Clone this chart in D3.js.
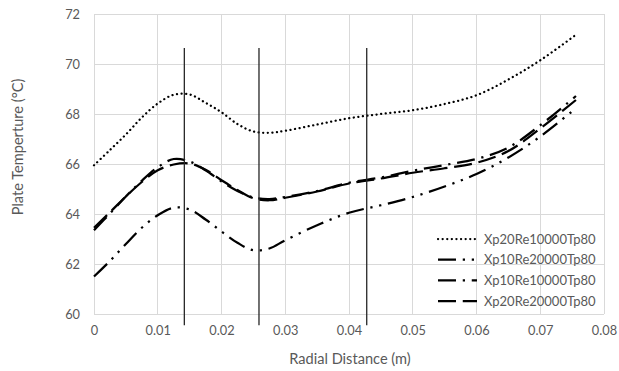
<!DOCTYPE html>
<html>
<head>
<meta charset="utf-8">
<script src="https://cdn.jsdelivr.net/npm/d3@7"></script>
<style>
  html, body { margin: 0; padding: 0; background: #ffffff; }
  svg { display: block; }
  text { font-family: Lato, "Open Sans", sans-serif; fill: #595959; }
</style>
</head>
<body>
<svg id="chart" width="619" height="371"></svg>
<script>
// ---- data ----
const radialDistance = [0, 0.0025, 0.005, 0.0075, 0.01, 0.0125, 0.015, 0.0175, 0.02, 0.0225, 0.025, 0.0275, 0.03, 0.035, 0.04, 0.045, 0.05, 0.055, 0.06, 0.065, 0.07, 0.0756];
const seriesNames = ["Xp20Re10000Tp80", "Xp10Re20000Tp80", "Xp10Re10000Tp80", "Xp20Re20000Tp80"];
const xp20Re10000 = [65.95, 66.56, 67.18, 67.86, 68.42, 68.77, 68.78, 68.45, 68.07, 67.6, 67.3, 67.25, 67.33, 67.58, 67.83, 68.0, 68.15, 68.4, 68.75, 69.38, 70.15, 71.17];
const xp10Re20000 = [61.5, 62.12, 62.8, 63.45, 63.95, 64.25, 64.18, 63.78, 63.3, 62.85, 62.55, 62.62, 62.95, 63.55, 64.05, 64.35, 64.68, 65.1, 65.6, 66.26, 67.1, 68.23];
const xp10Re10000 = [63.35, 64.02, 64.7, 65.33, 65.87, 66.2, 66.1, 65.75, 65.3, 64.92, 64.66, 64.6, 64.68, 64.92, 65.25, 65.46, 65.73, 65.96, 66.2, 66.66, 67.55, 68.72];
const xp20Re20000 = [63.45, 64.07, 64.7, 65.28, 65.75, 65.98, 66.02, 65.77, 65.35, 64.96, 64.63, 64.55, 64.65, 64.9, 65.22, 65.42, 65.65, 65.83, 66.05, 66.52, 67.42, 68.56];
const seriesValues = [xp20Re10000, xp10Re20000, xp10Re10000, xp20Re20000];
const markerX = [0.01417, 0.02588, 0.04278];
const markerRange = [70.64, 59.55];
const xTicks = [0, 0.01, 0.02, 0.03, 0.04, 0.05, 0.06, 0.07, 0.08];
const yTicks = [60, 62, 64, 66, 68, 70, 72];
const xTitle = "Radial Distance (m)";
const yTitle = "Plate Temperture (°C)";

// ---- layout ----
const svg = d3.select("#chart");
const m = { left: 94, right: 604, top: 14, bottom: 314 };
const x = d3.scaleLinear().domain([0, 0.08]).range([m.left, m.right]);
const y = d3.scaleLinear().domain([60, 72]).range([m.bottom, m.top]);

// gridlines
svg.append("g").selectAll("line").data(yTicks).join("line")
  .attr("x1", m.left).attr("x2", m.right)
  .attr("y1", d => y(d)).attr("y2", d => y(d))
  .attr("stroke", "#d9d9d9").attr("stroke-width", 1).attr("shape-rendering", "crispEdges");
svg.append("g").selectAll("line").data(xTicks).join("line")
  .attr("y1", m.top).attr("y2", m.bottom)
  .attr("x1", d => x(d)).attr("x2", d => x(d))
  .attr("stroke", "#d9d9d9").attr("stroke-width", 1).attr("shape-rendering", "crispEdges");

// axes (labels only)
const xAxis = d3.axisBottom(x).tickValues(xTicks).tickSize(0).tickPadding(12)
  .tickFormat(d => d === 0 ? "0" : d3.format(".2f")(d));
const gx = svg.append("g").attr("transform", `translate(0,${m.bottom})`).call(xAxis);
gx.select(".domain").remove();
gx.selectAll("text").attr("font-size", 12.8).style("fill", "#595959").style("font-family", "Lato, sans-serif");

const yAxis = d3.axisLeft(y).tickValues(yTicks).tickSize(0).tickPadding(14);
const gy = svg.append("g").attr("transform", `translate(${m.left},0)`).call(yAxis);
gy.select(".domain").remove();
gy.selectAll("text").attr("font-size", 12.8).style("fill", "#595959").style("font-family", "Lato, sans-serif");

// titles
svg.append("text").attr("x", 350).attr("y", 364).attr("text-anchor", "middle")
  .attr("font-size", 14.6).text(xTitle);
svg.append("text").attr("transform", "translate(23,147) rotate(-90)").attr("text-anchor", "middle")
  .attr("font-size", 14.6).text(yTitle);

// series
const sw = 2.25;
const dashes = [
  `0.1,${2*sw}`,
  `${8*sw},${3*sw},${sw},${3*sw},${sw},${3*sw}`,
  `${8*sw},${3*sw},${sw},${3*sw}`,
  `${8*sw},${3*sw}`
];
const line = d3.line().x(d => x(d[0])).y(d => y(d[1])).curve(d3.curveCatmullRom.alpha(0.5));
seriesValues.forEach((vals, i) => {
  const pts = radialDistance.map((r, k) => [r, vals[k]]);
  svg.append("path").datum(pts).attr("d", line)
    .attr("fill", "none").attr("stroke", "#000").attr("stroke-width", sw)
    .attr("stroke-linecap", i === 0 ? "round" : "butt")
    .attr("stroke-dasharray", dashes[i]);
});

// vertical marker lines
svg.append("g").selectAll("line").data(markerX).join("line")
  .attr("x1", d => x(d)).attr("x2", d => x(d))
  .attr("y1", y(markerRange[0])).attr("y2", y(markerRange[1]))
  .attr("stroke", "#262626").attr("stroke-width", 1.3);

// legend
const lg = svg.append("g");
const rowY = [239, 259.7, 280.3, 301];
seriesNames.forEach((name, i) => {
  lg.append("line").attr("x1", 438).attr("x2", 477).attr("y1", rowY[i]).attr("y2", rowY[i])
    .attr("stroke", "#000").attr("stroke-width", sw)
    .attr("stroke-linecap", i === 0 ? "round" : "butt")
    .attr("stroke-dasharray", dashes[i]);
  lg.append("text").attr("x", 484).attr("y", rowY[i]).attr("dy", "0.35em")
    .attr("font-size", 13).text(name);
});
</script>
</body>
</html>
